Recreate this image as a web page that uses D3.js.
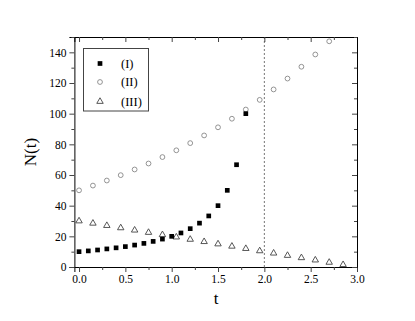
<!DOCTYPE html>
<html><head><meta charset="utf-8">
<script src="https://cdn.jsdelivr.net/npm/d3@7"></script>
<style>html,body{margin:0;padding:0;background:#fff;} svg{display:block;} text{font-family:'Liberation Serif','Times New Roman',serif;}</style>
</head><body>
<svg id="c" width="415" height="321"></svg>
<script>
// Series I (filled squares)
const tI = [0,0.1,0.2,0.3,0.4,0.5,0.6,0.7,0.8,0.9,1.0,1.1,1.2,1.3,1.4,1.5,1.6,1.7,1.8];
const nI = [10,10.5,11.1,11.8,12.5,13.3,14.3,15.4,16.7,18.2,20,22.2,25,28.6,33.3,40,50,66.7,100];
// Series II (open circles)
const tII = [0,0.15,0.3,0.45,0.6,0.75,0.9,1.05,1.2,1.35,1.5,1.65,1.8,1.95,2.1,2.25,2.4,2.55,2.7];
const nII = [50,53.1,56.4,59.9,63.6,67.5,71.7,76.1,80.8,85.8,91.1,96.7,102.7,109.0,115.8,122.9,130.6,138.6,147.2];
// Series III (open triangles)
const tIII = [0,0.15,0.3,0.45,0.6,0.75,0.9,1.05,1.2,1.35,1.5,1.65,1.8,1.95,2.1,2.25,2.4,2.55,2.7,2.85];
const nIII = [30,28.5,27,25.5,24,22.5,21,19.5,18,16.5,15,13.5,12,10.5,9,7.5,6,4.5,3,1.5];
const xTicks = [0,0.5,1.0,1.5,2.0,2.5,3.0];
const xMinor = [0.25,0.75,1.25,1.75,2.25,2.75];
const yTicks = [0,20,40,60,80,100,120,140];
const yMinor = [10,30,50,70,90,110,130,150];
const legendLabels = ["(I)","(II)","(III)"];
const vLine = 2.0;

const svg = d3.select("#c");
const L=74.4, R=357, T=37, B=267;
const x = d3.scaleLinear().domain([-0.05,3.0]).range([L,R]);
const y = d3.scaleLinear().domain([0,150]).range([B,T]);
const font = "'Liberation Serif','Times New Roman',serif";

// dotted line
svg.append("line").attr("x1",x(vLine)).attr("x2",x(vLine)).attr("y1",T).attr("y2",B)
  .attr("stroke","#777").attr("stroke-width",1).attr("stroke-dasharray","2,2");

function styleAxis(g){
  g.attr("font-family",font);
  g.selectAll("path").attr("stroke","#000");
  g.selectAll("line").attr("stroke","#444");
  g.selectAll("text").attr("font-family",font).attr("font-size",11.5).attr("fill","#000");
}
// bottom
const gb = svg.append("g").attr("transform",`translate(0,${B})`);
gb.call(d3.axisBottom(x).tickValues(xTicks).tickFormat(d3.format(".1f")).tickSizeOuter(0).tickSize(5).tickPadding(3));
gb.append("g").call(d3.axisBottom(x).tickValues(xMinor).tickFormat("").tickSizeOuter(0).tickSize(3)).select("path").remove();
styleAxis(gb);
// top
const gt = svg.append("g").attr("transform",`translate(0,${T})`);
gt.call(d3.axisBottom(x).tickValues(xTicks).tickFormat("").tickSizeOuter(0).tickSize(5));
gt.append("g").call(d3.axisBottom(x).tickValues(xMinor).tickFormat("").tickSizeOuter(0).tickSize(3)).select("path").remove();
styleAxis(gt);
// left
const gl = svg.append("g").attr("transform",`translate(${L},0)`);
gl.call(d3.axisLeft(y).tickValues(yTicks).tickSizeOuter(0).tickSize(5).tickPadding(3));
gl.append("g").call(d3.axisLeft(y).tickValues(yMinor).tickFormat("").tickSizeOuter(0).tickSize(3)).select("path").remove();
styleAxis(gl);
// right
const gr = svg.append("g").attr("transform",`translate(${R},0)`);
gr.call(d3.axisLeft(y).tickValues(yTicks).tickFormat("").tickSizeOuter(0).tickSize(5));
gr.append("g").call(d3.axisLeft(y).tickValues(yMinor).tickFormat("").tickSizeOuter(0).tickSize(3)).select("path").remove();
styleAxis(gr);

// axis titles
svg.append("text").attr("x",216).attr("y",304).attr("text-anchor","middle")
  .attr("font-family",font).attr("font-size",17).text("t");
svg.append("text").attr("transform","translate(36,152) rotate(-90)").attr("text-anchor","middle")
  .attr("font-family",font).attr("font-size",17).text("N(t)");

const sq = d3.symbol().type(d3.symbolSquare).size(22);
const tri = d3.symbol().type(d3.symbolTriangle).size(18);

const plot = svg.append("g");
plot.selectAll(".c2").data(tII.map((t,i)=>[t,nII[i]])).join("circle")
  .attr("cx",d=>x(d[0])).attr("cy",d=>y(d[1])).attr("r",2.4)
  .attr("fill","none").attr("stroke","#888").attr("stroke-width",0.9);
plot.selectAll(".t3").data(tIII.map((t,i)=>[t,nIII[i]])).join("path")
  .attr("d",tri).attr("transform",d=>`translate(${x(d[0])},${y(d[1])})`)
  .attr("fill","none").attr("stroke","#444").attr("stroke-width",0.9);
plot.selectAll(".s1").data(tI.map((t,i)=>[t,nI[i]])).join("path")
  .attr("d",sq).attr("transform",d=>`translate(${x(d[0])},${y(d[1])})`)
  .attr("fill","#000");

// legend
const lg = svg.append("g");
lg.append("rect").attr("x",83.5).attr("y",48.5).attr("width",65).attr("height",62.5)
  .attr("fill","#fff").attr("stroke","#444").attr("stroke-width",1);
const rows = [63.5,82,101.5];
lg.append("path").attr("d",sq).attr("transform",`translate(100,${rows[0]})`).attr("fill","#000");
lg.append("circle").attr("cx",100).attr("cy",rows[1]).attr("r",2.4).attr("fill","none").attr("stroke","#888").attr("stroke-width",0.9);
lg.append("path").attr("d",tri).attr("transform",`translate(100,${rows[2]})`).attr("fill","none").attr("stroke","#444").attr("stroke-width",0.9);
legendLabels.forEach((lab,i)=>{
  lg.append("text").attr("x",121).attr("y",rows[i]+4).attr("font-family",font).attr("font-size",12.5).text(lab);
});
</script>
</body></html>
